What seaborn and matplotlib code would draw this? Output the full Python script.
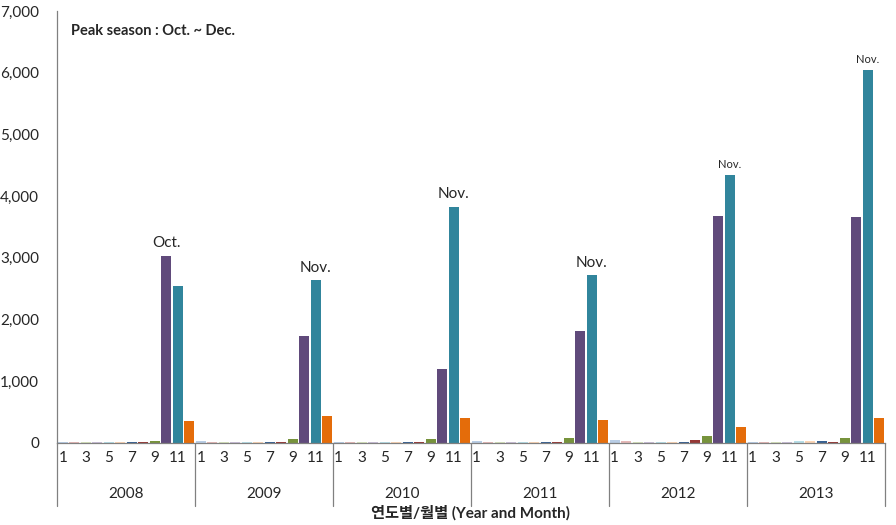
import matplotlib
matplotlib.use("Agg")
import matplotlib.pyplot as plt
import matplotlib.transforms as mtransforms
import seaborn as sns
import pandas as pd
import numpy as np

years = ["2008", "2009", "2010", "2011", "2012", "2013"]
months = list(range(1, 13))
v2008 = [10, 10, 15, 20, 15, 15, 20, 15, 40, 3030, 2540, 360]
v2009 = [30, 10, 15, 15, 15, 15, 20, 20, 60, 1740, 2640, 430]
v2010 = [15, 15, 15, 15, 15, 15, 20, 20, 60, 1200, 3830, 410]
v2011 = [35, 15, 15, 15, 15, 15, 20, 20, 80, 1810, 2720, 370]
v2012 = [50, 40, 15, 15, 15, 15, 20, 45, 110, 3680, 4340, 260]
v2013 = [15, 15, 15, 15, 30, 30, 35, 20, 75, 3660, 6040, 410]
values_by_year = [v2008, v2009, v2010, v2011, v2012, v2013]
month_colors = ["#B9CDE5", "#E6B9B8", "#D7E4BD", "#CCC1DA", "#B7DEE8", "#FCD5B5",
                "#376092", "#953735", "#77933C", "#604A7B", "#31859C", "#E46C0A"]
# peak annotations: (year, month, text, size)
peak_notes = [("2008", 10, "Oct.", 11), ("2009", 11, "Nov.", 11), ("2010", 11, "Nov.", 11),
              ("2011", 11, "Nov.", 11), ("2012", 11, "Nov.", 8), ("2013", 11, "Nov.", 8)]
y_ticks = [0, 1000, 2000, 3000, 4000, 5000, 6000, 7000]

rows = []
for y, vals in zip(years, values_by_year):
    for m, v in zip(months, vals):
        rows.append({"key": f"{y}-{m:02d}", "year": y, "month": m, "value": v})
df = pd.DataFrame(rows)

sns.set_style("white")
plt.rcParams["font.family"] = ["Lato", "Noto Sans CJK KR", "DejaVu Sans"]

fig = plt.figure(figsize=(8.96, 5.25), dpi=100)
ax = fig.add_axes([0.0636, 0.1562, 0.924, 0.8229])

sns.barplot(data=df, x="key", y="value", hue="month", palette=month_colors,
            dodge=False, width=0.86, legend=False, ax=ax, saturation=1, linewidth=0)

ax.set_xlim(-0.5, len(df) - 0.5)
ax.set_ylim(0, 7000)
ax.set_yticks(y_ticks)
ax.set_yticklabels([f"{t:,}" for t in y_ticks], fontsize=11)
ax.tick_params(axis="y", length=4, width=0.8, color="#808080", direction="out", pad=9)

xt = [i for i, r in df.iterrows() if r["month"] % 2 == 1]
ax.set_xticks(xt)
ax.set_xticklabels([str(df.loc[i, "month"]) for i in xt], fontsize=11)
ax.tick_params(axis="x", length=0, pad=6)

for s in ["top", "right"]:
    ax.spines[s].set_visible(False)
for s in ["left", "bottom"]:
    ax.spines[s].set_color("#808080")
    ax.spines[s].set_linewidth(0.9)

ax.set_xlabel("연도별/월별 (Year and Month)", fontsize=11, fontweight="bold")
ax.xaxis.set_label_coords(0.5, -0.143)
ax.set_ylabel("")

trans = mtransforms.blended_transform_factory(ax.transData, ax.transAxes)
for k, y in enumerate(years):
    left = k * 12 - 0.5
    ax.plot([left, left], [0, -0.145], transform=trans, color="#808080", lw=0.9, clip_on=False)
    ax.text(k * 12 + 5.5, -0.118, y, transform=trans, ha="center", va="center", fontsize=11)
ax.plot([len(df) - 0.5] * 2, [0, -0.145], transform=trans, color="#808080", lw=0.9, clip_on=False)

for y, m, txt, sz in peak_notes:
    idx = years.index(y) * 12 + (m - 1)
    val = values_by_year[years.index(y)][m - 1]
    ax.annotate(txt, (idx, val), xytext=(0, 4), textcoords="offset points",
                ha="center", va="bottom", fontsize=sz)

ax.text(0.017, 0.953, "Peak season : Oct. ~ Dec.", transform=ax.transAxes,
        fontsize=10.5, fontweight="bold", ha="left", va="center")

fig.savefig("out.png", dpi=100)
